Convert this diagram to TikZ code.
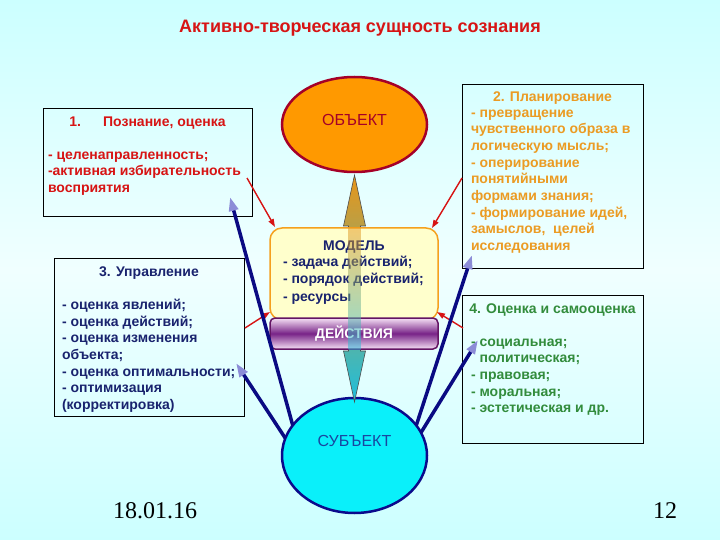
\documentclass[tikz,border=0pt]{standalone}
\usepackage{fontspec}
\setmainfont{Liberation Sans}
\newfontfamily\datefont{Liberation Serif}
\usetikzlibrary{arrows.meta,calc,shapes.geometric}
\definecolor{bgc}{RGB}{204,255,255}
\definecolor{bgw}{RGB}{240,255,255}
\definecolor{redt}{RGB}{215,20,20}
\definecolor{orgt}{RGB}{235,155,35}
\definecolor{navt}{RGB}{25,35,110}
\definecolor{grnt}{RGB}{50,140,60}
\definecolor{cream}{RGB}{255,255,204}
\definecolor{orline}{RGB}{245,160,30}
\definecolor{objfill}{RGB}{255,153,0}
\definecolor{objline}{RGB}{165,0,40}
\definecolor{subfill}{RGB}{10,240,250}
\definecolor{subline}{RGB}{10,10,140}
\definecolor{subtext}{RGB}{25,70,160}
\definecolor{purp}{RGB}{100,20,100}
\definecolor{purpmid}{RGB}{120,35,135}
\definecolor{lilac}{RGB}{245,225,245}
\definecolor{navy}{RGB}{10,10,130}
\definecolor{lav}{RGB}{140,140,215}
\definecolor{gold}{RGB}{232,150,25}
\definecolor{olive}{RGB}{200,195,90}
\definecolor{teal}{RGB}{30,190,220}
\newcommand\fst{\rule{0pt}{10pt}}
\begin{document}
\begin{tikzpicture}[x=1pt,y=-1pt,
  every node/.style={inner sep=0pt,outer sep=0pt},
  card/.style={draw=black,line width=0.8pt},
  head/.style={anchor=base,font=\fontsize{14}{16.7}\selectfont\bfseries},
  list/.style={anchor=north west,align=left,font=\fontsize{14}{16.7}\selectfont\bfseries},
  hint/.style={-{Triangle[length=8pt,width=5.5pt]},draw=redt,line width=1.4pt},
  link/.style={-{Triangle[length=14pt,width=9pt,color=lav]},draw=navy,line width=3.5pt}
  ]
    \shade[top color=bgc,bottom color=bgc,middle color=bgw] (0,0) rectangle (720,540);
    \useasboundingbox (0,0) rectangle (720,540);

    \node[font=\fontsize{18}{21}\selectfont\bfseries,text=redt] (ttl) at (360,28) {Активно-творческая сущность сознания};

    \node[ellipse,draw=objline,fill=objfill,line width=2.5pt,minimum width=145pt,minimum height=95pt] (obj) at (354.5,124.5) {};
    \node[text=objline,font=\fontsize{16}{19}\selectfont] (objt) at ($(obj.center)+(0,-4.5)$) {ОБЪЕКТ};
    \node[ellipse,draw=subline,fill=subfill,line width=2.5pt,minimum width=145pt,minimum height=115pt] (sub) at (354.5,455.5) {};
    \node[text=subtext,font=\fontsize{16}{19}\selectfont] (subt) at ($(sub.center)+(0,-14.5)$) {СУБЪЕКТ};

    \node[card,minimum width=209pt,minimum height=108pt] (b1) at (147.5,162) {};
    \node[head,text=redt] (t1) at ($(b1.north)+(0,18.5)$) {1.\hspace{22pt}Познание, оценка};
    \node[list,text=redt] (l1) at ($(b1.north west)+(5,41)$) {\fst- целенаправленность;\\-активная избирательность\\восприятия};

    \node[card,minimum width=181pt,minimum height=184pt] (b2) at (552.5,176) {};
    \node[head,text=orgt] (t2) at ($(b2.north)+(0,18)$) {2. Планирование};
    \node[list,text=orgt] (l2) at ($(b2.north west)+(9,23)$) {\fst- превращение\\чувственного образа в\\логическую мысль;\\- оперирование\\понятийными\\формами знания;\\- формирование идей,\\замыслов,\ \ целей\\исследования};

    \node[card,minimum width=190pt,minimum height=158pt] (b3) at (149,337) {};
    \node[head,text=navt] (t3) at ($(b3.north)+(0,18.5)$) {3. Управление};
    \node[list,text=navt] (l3) at ($(b3.north west)+(8,41)$) {\fst- оценка явлений;\\- оценка действий;\\- оценка изменения\\объекта;\\- оценка оптимальности;\\- оптимизация\\(корректировка)};

    \node[card,minimum width=181pt,minimum height=148pt] (b4) at (552.5,369) {};
    \node[head,text=grnt] (t4) at ($(b4.north)+(0,18)$) {4. Оценка и самооценка};
    \node[list,text=grnt] (l4) at ($(b4.north west)+(9,41)$) {\fst- социальная;\\\phantom{- }политическая;\\- правовая;\\- моральная;\\- эстетическая и др.};

    \coordinate (at) at ($(obj.south)+(0,3)$);
    \coordinate (ab) at ($(sub.north)+(0,4)$);
    \shade[top color=gold,middle color=olive,bottom color=teal,draw=black!70,line width=0.6pt]
      (at) -- ($(at)+(11,51)$) -- ($(at)+(6,51)$) -- ($(ab)+(6,-51)$) -- ($(ab)+(11,-51)$) -- (ab)
      -- ($(ab)+(-11,-51)$) -- ($(ab)+(-6,-51)$) -- ($(at)+(-6,51)$) -- ($(at)+(-11,51)$) -- cycle;

    \node[draw=orline,fill=cream,line width=1.5pt,rounded corners=12pt,minimum width=168pt,minimum height=92pt] (mdl) at (354,274) {};
    \node[head,text=navt] (mt) at ($(mdl.north)+(0,22)$) {МОДЕЛЬ};
    \node[list,text=navt,font=\fontsize{14}{17.5}\selectfont\bfseries] (ml) at ($(mdl.north west)+(13,28)$) {\fst- задача действий;\\- порядок действий;\\- ресурсы};
    \node[draw=purp,line width=1.5pt,rounded corners=5pt,minimum width=168pt,minimum height=31pt,
      top color=lilac,bottom color=lilac,middle color=purpmid,text=white,font=\fontsize{14}{16}\selectfont\bfseries] (act) at (354,333.5) {ДЕЙСТВИЯ};
    \shade[top color=gold,middle color=olive,bottom color=teal,fill opacity=0.5] ($(at)+(-6,53)$) rectangle ($(ab)+(6,-53)$);

    \draw[hint] ($(b1.east)+(-5,16)$) -- ($(mdl.north west)+(5,-1)$);
    \draw[hint] ($(b2.west)+(0,2)$) -- ($(mdl.north east)+(-6,0)$);
    \draw[hint] ($(b3.east)+(1,-9)$) -- ($(mdl.south west)+(0,-8)$);
    \draw[hint] ($(b4.west)+(1,-41)$) -- ($(mdl.south east)+(-1,-8)$);

    \draw[link] (sub.154) -- ($(b1.south east)+(-22,-19)$);
    \draw[link] (sub.166) -- ($(b3.south east)+(-8,-53)$);
    \draw[link] (sub.26) -- ($(b2.south west)+(10,-13)$);
    \draw[link] (sub.19) -- ($(b4.north west)+(16,45)$);

    \node[font=\datefont\fontsize{24}{24}\selectfont] (dt) at (155,511) {18.01.16};
    \node[font=\datefont\fontsize{24}{24}\selectfont] (pg) at (665,511) {12};
\end{tikzpicture}
\end{document}
